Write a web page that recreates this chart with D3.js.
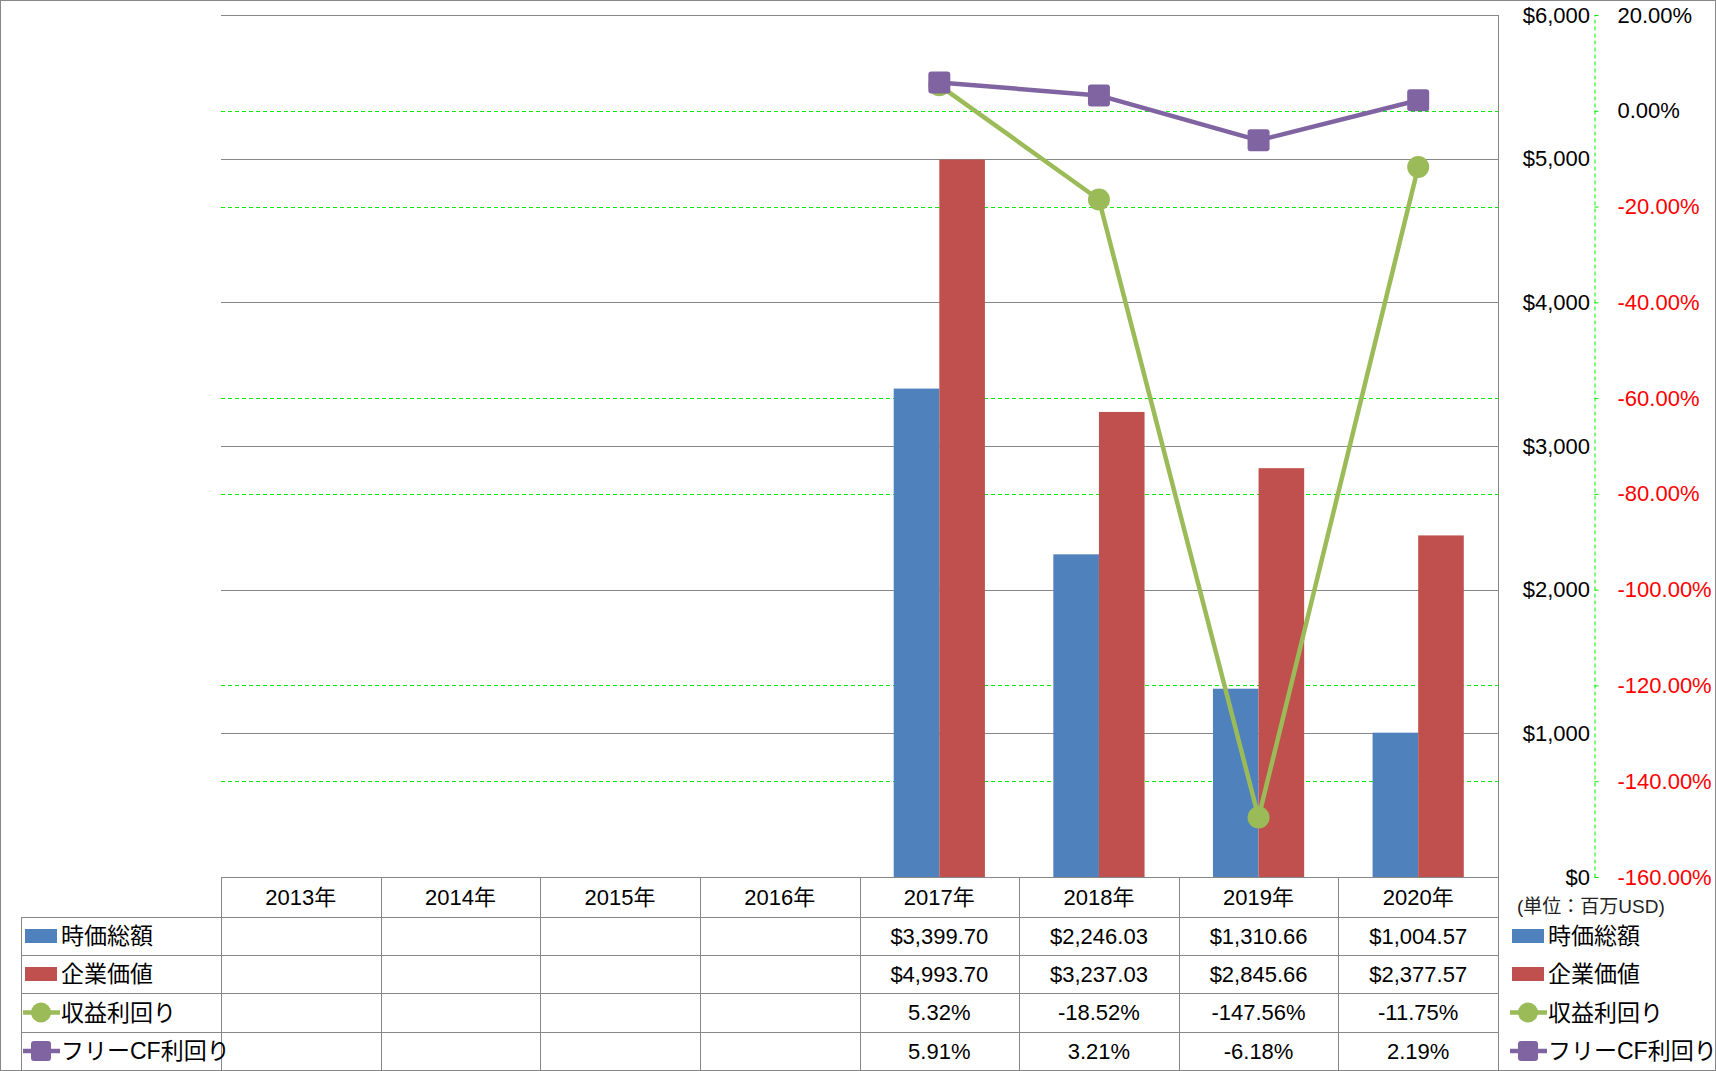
<!DOCTYPE html>
<html>
<head>
<meta charset="utf-8">
<script src="https://cdn.jsdelivr.net/npm/d3@7"></script>
<style>
	body { margin: 0; background: #fff; }
	text { font-family: "Liberation Sans", "Noto Sans CJK JP", sans-serif; }
</style>
</head>
<body>
<div id="chart"></div>
<script>
var years = ["2013年", "2014年", "2015年", "2016年", "2017年", "2018年", "2019年", "2020年"];
var marketCap = [null, null, null, null, 3399.70, 2246.03, 1310.66, 1004.57];
var enterpriseValue = [null, null, null, null, 4993.70, 3237.03, 2845.66, 2377.57];
var earningsYield = [null, null, null, null, 5.32, -18.52, -147.56, -11.75];
var fcfYield = [null, null, null, null, 5.91, 3.21, -6.18, 2.19];
var moneyTicks = [0, 1000, 2000, 3000, 4000, 5000, 6000];
var pctTicks = [-160, -140, -120, -100, -80, -60, -40, -20, 0, 20];

var width = 1716, height = 1071;
var plot = {left: 221, right: 1498, top: 15, bottom: 877};
var rowLines = [877, 917, 955, 993, 1032, 1070];

var colors = {mc: "#4F81BD", ev: "#C0504D", ey: "#9BBB59", fcf: "#8064A2"};
var grid = "#878787";

var series = [
	{key: "mc", name: "時価総額", type: "bar", values: marketCap, fmt: v => "$" + d3.format(",.2f")(v)},
	{key: "ev", name: "企業価値", type: "bar", values: enterpriseValue, fmt: v => "$" + d3.format(",.2f")(v)},
	{key: "ey", name: "収益利回り", type: "circle", values: earningsYield, fmt: v => v.toFixed(2) + "%"},
	{key: "fcf", name: "フリーCF利回り", type: "square", values: fcfYield, fmt: v => v.toFixed(2) + "%"}
];

var svg = d3.select("#chart").append("svg")
	.attr("width", width)
	.attr("height", height);

var x = d3.scaleBand().domain(years).range([plot.left, plot.right]);
var xSub = d3.scaleBand().domain(["mc", "ev"]).range([0, x.bandwidth()]).paddingOuter(0.75);
var yMoney = d3.scaleLinear().domain([0, 6000]).range([plot.bottom, plot.top]);
var yPct = d3.scaleLinear().domain([-160, 20]).range([plot.bottom, plot.top]);

// green dashed grid (percent axis), grey grid drawn over it
svg.append("g").selectAll("line")
	.data(pctTicks)
	.join("line")
	.attr("x1", plot.left).attr("x2", plot.right)
	.attr("y1", d => Math.round(yPct(d)) + 0.5).attr("y2", d => Math.round(yPct(d)) + 0.5)
	.attr("stroke", "#00EE00")
	.attr("stroke-dasharray", "4,3");

svg.append("g").selectAll("line")
	.data(moneyTicks.filter(d => d > 0))
	.join("line")
	.attr("x1", plot.left).attr("x2", plot.right)
	.attr("y1", d => Math.round(yMoney(d)) + 0.5).attr("y2", d => Math.round(yMoney(d)) + 0.5)
	.attr("stroke", grid);

svg.append("line")
	.attr("x1", plot.right + 0.5).attr("x2", plot.right + 0.5)
	.attr("y1", plot.top).attr("y2", plot.bottom)
	.attr("stroke", grid);

// bars
var barData = [];
series.filter(s => s.type === "bar").forEach(s => {
	s.values.forEach((v, i) => {
		if (v != null) barData.push({key: s.key, year: years[i], value: v});
	});
});

svg.append("g").selectAll("rect")
	.data(barData)
	.join("rect")
	.attr("x", d => x(d.year) + xSub(d.key))
	.attr("width", xSub.bandwidth())
	.attr("y", d => yMoney(d.value))
	.attr("height", d => yMoney(0) - yMoney(d.value))
	.attr("fill", d => colors[d.key]);

// lines + markers
var line = d3.line()
	.defined(d => d.value != null)
	.x(d => x(d.year) + x.bandwidth() / 2)
	.y(d => yPct(d.value));

function marker(g, type, color, cx, cy, size) {
	if (type === "circle") {
		g.append("circle").attr("cx", cx).attr("cy", cy).attr("r", size / 2).attr("fill", color);
	} else {
		g.append("rect")
			.attr("x", cx - size / 2).attr("y", cy - size / 2)
			.attr("width", size).attr("height", size)
			.attr("rx", 3).attr("fill", color);
	}
}

series.filter(s => s.type !== "bar").forEach(s => {
	var pts = s.values.map((v, i) => ({year: years[i], value: v}));
	var g = svg.append("g");
	g.append("path")
		.datum(pts)
		.attr("d", line)
		.attr("fill", "none")
		.attr("stroke", colors[s.key])
		.attr("stroke-width", 4.5)
		.attr("stroke-linejoin", "round");
	pts.filter(d => d.value != null).forEach(d => {
		marker(g, s.type, colors[s.key], x(d.year) + x.bandwidth() / 2, yPct(d.value), 22);
	});
});

// $ axis
var moneyAxis = svg.append("g")
	.attr("transform", "translate(1592,0)")
	.call(d3.axisLeft(yMoney).tickValues(moneyTicks).tickSize(0).tickPadding(2).tickFormat(d => "$" + d3.format(",")(d)));
moneyAxis.select(".domain").remove();
moneyAxis.selectAll("text").style("font-size", "22px").style("fill", "#000");

// % axis
var pctAxis = svg.append("g")
	.attr("transform", "translate(1594.5,0)")
	.call(d3.axisRight(yPct).tickValues(pctTicks).tickSize(7).tickSizeOuter(0).tickPadding(16).tickFormat(d => d.toFixed(2) + "%"));
pctAxis.select(".domain").attr("stroke", "#00EE00").attr("stroke-dasharray", "4,3");
pctAxis.selectAll(".tick line").attr("stroke", "#00EE00").attr("stroke-dasharray", "4,3");
pctAxis.selectAll("text")
	.style("font-size", "22px")
	.style("fill", d => d < 0 ? "#FF0000" : "#000");

svg.append("text")
	.attr("x", 1517).attr("y", 906)
	.attr("dy", "0.35em")
	.style("font-size", "19px")
	.style("fill", "#222")
	.text("(単位：百万USD)");

// data table
var table = svg.append("g").attr("stroke", grid).attr("shape-rendering", "crispEdges");
table.append("line").attr("x1", plot.left).attr("x2", plot.right).attr("y1", rowLines[0] + 0.5).attr("y2", rowLines[0] + 0.5);
rowLines.slice(1, 5).forEach(y => {
	table.append("line").attr("x1", 21).attr("x2", plot.right).attr("y1", y + 0.5).attr("y2", y + 0.5);
});
table.append("line").attr("x1", 21.5).attr("x2", 21.5).attr("y1", rowLines[1]).attr("y2", height);
years.concat([null]).forEach((yr, i) => {
	var xx = yr ? x(yr) : plot.right;
	table.append("line").attr("x1", Math.round(xx) + 0.5).attr("x2", Math.round(xx) + 0.5).attr("y1", rowLines[0]).attr("y2", height);
});

var rowMid = i => (rowLines[i] + rowLines[i + 1]) / 2;

svg.append("g").selectAll("text")
	.data(years)
	.join("text")
	.attr("x", d => x(d) + x.bandwidth() / 2)
	.attr("y", rowMid(0))
	.attr("dy", "0.35em")
	.attr("text-anchor", "middle")
	.style("font-size", "22px")
	.text(d => d);

series.forEach((s, r) => {
	svg.append("g").selectAll("text")
		.data(s.values.map((v, i) => ({year: years[i], value: v})).filter(d => d.value != null))
		.join("text")
		.attr("x", d => x(d.year) + x.bandwidth() / 2)
		.attr("y", rowMid(r + 1))
		.attr("dy", "0.35em")
		.attr("text-anchor", "middle")
		.style("font-size", "22px")
		.text(d => s.fmt(d.value));
});

// legend keys (in table and on the right)
function legendKey(x0, cy, s) {
	var g = svg.append("g");
	if (s.type === "bar") {
		g.append("rect").attr("x", x0 + 2).attr("y", cy - 7).attr("width", 32).attr("height", 14).attr("fill", colors[s.key]);
	} else {
		g.append("line").attr("x1", x0).attr("x2", x0 + 37).attr("y1", cy).attr("y2", cy)
			.attr("stroke", colors[s.key]).attr("stroke-width", 4.5);
		marker(g, s.type, colors[s.key], x0 + 18, cy, 20);
	}
	g.append("text")
		.attr("x", x0 + 38).attr("y", cy)
		.attr("dy", "0.36em")
		.style("font-size", "23px")
		.text(s.name);
}

series.forEach((s, r) => {
	legendKey(23, rowMid(r + 1), s);
	legendKey(1510, rowMid(r + 1), s);
});

// outer border
svg.append("rect")
	.attr("x", 0.5).attr("y", 0.5)
	.attr("width", width - 1).attr("height", height - 1)
	.attr("fill", "none")
	.attr("stroke", grid);
</script>
</body>
</html>
